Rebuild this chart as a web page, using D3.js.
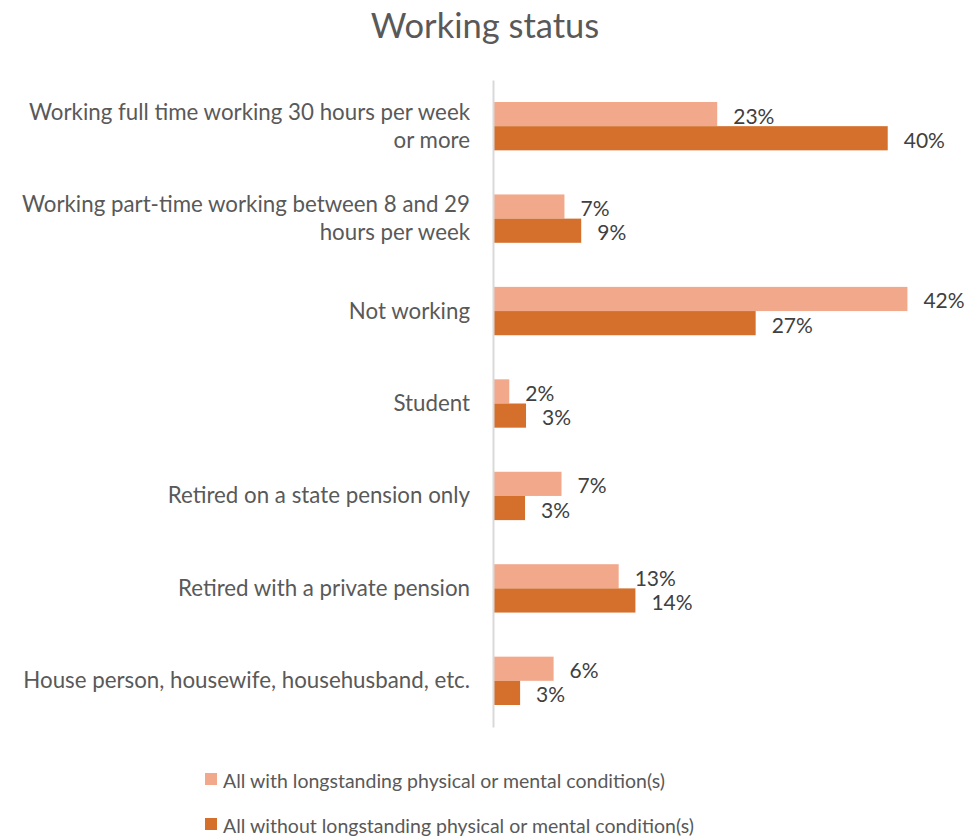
<!DOCTYPE html>
<html>
<head>
<meta charset="utf-8">
<script src="https://cdn.jsdelivr.net/npm/d3@7"></script>
<style>
  html, body { margin: 0; padding: 0; background: #fff; }
  svg { display: block; }
</style>
</head>
<body>
<svg id="chart" width="979" height="836"></svg>
<script>
const title = "Working status";
const categories = [
  ["Working full time working 30 hours per week", "or more"],
  ["Working part-time working between 8 and 29", "hours per week"],
  ["Not working"],
  ["Student"],
  ["Retired on a state pension only"],
  ["Retired with a private pension"],
  ["House person, housewife, househusband, etc."]
];
const seriesNames = [
  "All with longstanding physical or mental condition(s)",
  "All without longstanding physical or mental condition(s)"
];
const withCondition    = [22.7, 7.2, 42.0, 1.6, 6.9, 12.7, 6.1];
const withoutCondition = [40.0, 8.9, 26.6, 3.3, 3.2, 14.4, 2.7];
const seriesColors = ["#f2a88b", "#d4702c"];

const svg = d3.select("#chart");
const font = "Lato, 'Open Sans', sans-serif";
const textColor = "#595959";

const x = d3.scaleLinear().domain([0, 45]).range([493.5, 937]);
const y = d3.scaleBand().domain(d3.range(categories.length)).range([80, 727]).paddingInner(0.477).paddingOuter(0.238);
const sub = d3.scaleBand().domain([0, 1]).range([0, y.bandwidth()]);

svg.append("text")
  .attr("x", 485).attr("y", 24)
  .attr("text-anchor", "middle").attr("dominant-baseline", "central")
  .attr("font-family", font).attr("font-size", 34.5).attr("fill", textColor)
  .text(title);

const series = [withCondition, withoutCondition];
series.forEach((vals, si) => {
  const g = svg.append("g");
  g.selectAll("rect").data(vals).join("rect")
    .attr("x", x(0))
    .attr("y", (d, i) => y(i) + sub(si))
    .attr("width", d => x(d) - x(0))
    .attr("height", sub.bandwidth())
    .attr("fill", seriesColors[si]);
  g.selectAll("text").data(vals).join("text")
    .attr("x", d => x(d) + 16)
    .attr("y", (d, i) => y(i) + sub(si) + sub.bandwidth() / 2 + 1)
    .attr("dominant-baseline", "central")
    .attr("font-family", font).attr("font-size", 21).attr("fill", "#404040")
    .text(d => Math.round(d) + "%");
});

// axis line
const axis = d3.axisLeft(y).tickSize(0).tickFormat("");
const ag = svg.append("g").attr("transform", `translate(${x(0) - 0.5},0)`).call(axis);
ag.select(".domain").attr("stroke", "#d9d9d9").attr("stroke-width", 2);

// category labels
const lab = svg.append("g");
categories.forEach((lines, i) => {
  const cy = y(i) + y.bandwidth() / 2;
  const lh = 28;
  const t = lab.append("text")
    .attr("text-anchor", "end")
    .attr("font-family", font).attr("font-size", 22.3).attr("fill", textColor);
  lines.forEach((ln, k) => {
    t.append("tspan")
      .attr("x", 470)
      .attr("y", cy - 1 + (k - (lines.length - 1) / 2) * lh)
      .attr("dominant-baseline", "central")
      .text(ln);
  });
});

// legend
const leg = svg.append("g");
seriesNames.forEach((name, i) => {
  const ly = 779 + i * 45;
  leg.append("rect").attr("x", 205).attr("y", ly - 6).attr("width", 12).attr("height", 12).attr("fill", seriesColors[i]);
  leg.append("text").attr("x", 223).attr("y", ly + 1)
    .attr("dominant-baseline", "central")
    .attr("font-family", font).attr("font-size", 19.5).attr("fill", textColor)
    .text(name);
});
</script>
</body>
</html>
